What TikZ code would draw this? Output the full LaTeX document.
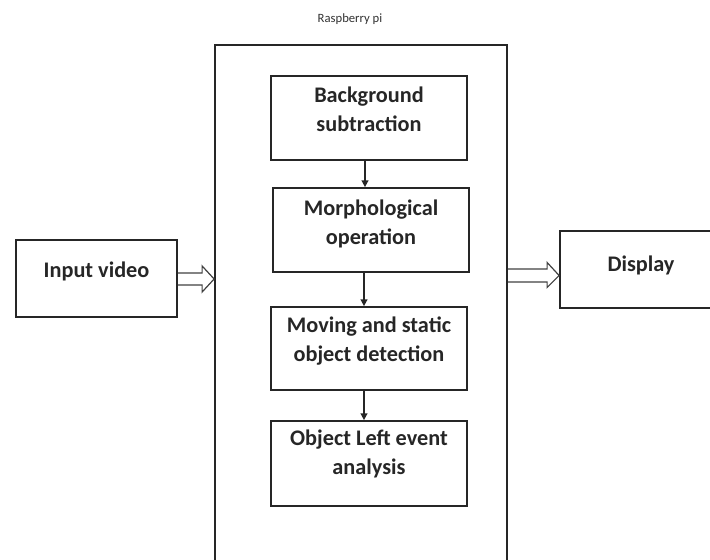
\documentclass[tikz,border=0pt]{standalone}
\usepackage{fontspec}
\setmainfont{Carlito}
\usetikzlibrary{calc,arrows.meta}
\begin{document}
\begin{tikzpicture}[x=0.75pt,y=-0.75pt,
  box/.style={draw=black!85,line width=1.3pt,rectangle,inner sep=0pt},
  lbl/.style={font=\fontsize{16.7}{21.75}\selectfont\bfseries,align=center,inner sep=0pt,anchor=north,text=black!85},
  flow/.style={draw=black!85,line width=1.1pt,-{Triangle[length=5pt,width=5pt]}},
  hollow/.style={draw=black!75,line width=0.9pt,line join=miter}]
\useasboundingbox (0,0) rectangle (710,560);
% outer Raspberry pi box
\node[box,minimum width=219pt,minimum height=416.25pt] (rp) at (361,322.5) {};
\node[font=\fontsize{9.5}{11}\selectfont,anchor=base,inner sep=0pt,text=black!80] (rptxt) at (350,23) {Raspberry pi};
% side boxes
\node[box,minimum width=120.75pt,minimum height=57.75pt] (in) at (96.5,278.5) {};
\node[lbl,anchor=base] (intxt) at (96.5,277) {Input video};
\node[box,minimum width=121.5pt,minimum height=57.75pt] (disp) at (641,269.5) {};
\node[lbl,anchor=base] (disptxt) at (641,271) {Display};
% inner boxes
\node[box,minimum width=147pt,minimum height=63pt] (b1) at (369,118) {};
\node[lbl] (t1) at ($(b1.north)+(0,11)$) {Background\\subtraction};
\node[box,minimum width=147pt,minimum height=63pt] (b2) at (371,230) {};
\node[lbl] (t2) at ($(b2.north)+(0,12)$) {Morphological\\operation};
\node[box,minimum width=147pt,minimum height=62.25pt] (b3) at (369,348.5) {};
\node[lbl] (t3) at ($(b3.north)+(0,10)$) {Moving and static\\object detection};
\node[box,minimum width=147pt,minimum height=63.75pt] (b4) at (369,463.5) {};
\node[lbl] (t4) at ($(b4.north)+(0,9)$) {Object Left event\\analysis};
% vertical arrows
\coordinate (a1) at ($(b1.south)+(-4,0)$);
\coordinate (a2) at ($(b2.south)+(-7,0)$);
\coordinate (a3) at ($(b3.south)+(-5,0)$);
\draw[flow] (a1) -- (a1 |- b2.north);
\draw[flow] (a2) -- (a2 |- b3.north);
\draw[flow] (a3) -- (a3 |- b4.north);
% hollow arrows
\coordinate (ls) at ($(in.east)+(0,0.5)$);
\coordinate (le) at (rp.west |- ls);
\draw[hollow] ($(ls)+(0,-6)$) -- ($(le)+(-12,-6)$) -- ($(le)+(-12,-13)$) -- (le)
  -- ($(le)+(-12,13)$) -- ($(le)+(-12,6)$) -- ($(ls)+(0,6)$);
\coordinate (rs) at ($(rp.east |- disp.west)+(0,6)$);
\coordinate (re) at (disp.west |- rs);
\draw[hollow] ($(rs)+(0,-6.5)$) -- ($(re)+(-12,-6.5)$) -- ($(re)+(-12,-13)$) -- (re)
  -- ($(re)+(-12,12)$) -- ($(re)+(-12,6.5)$) -- ($(rs)+(0,6.5)$);
\end{tikzpicture}
\end{document}
